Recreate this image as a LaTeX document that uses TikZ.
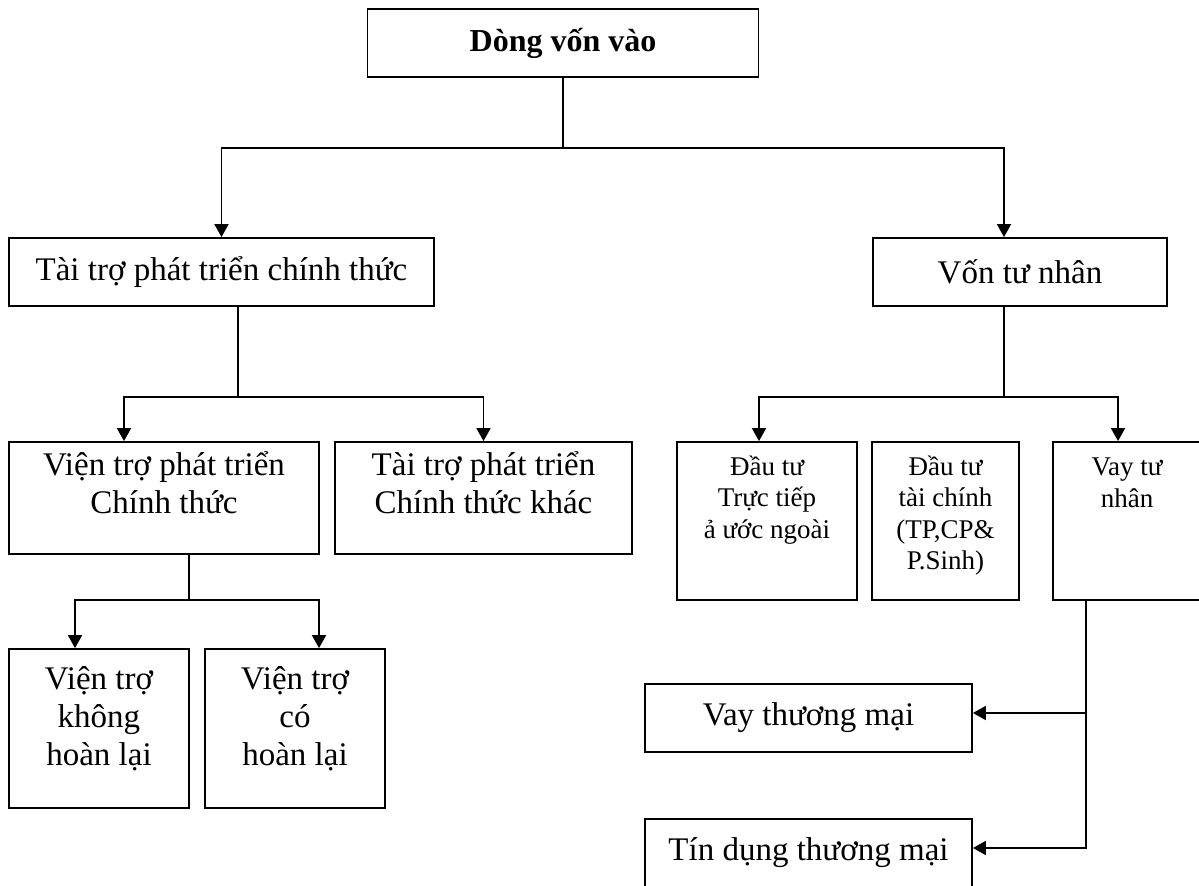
\documentclass[tikz,border=0pt]{standalone}
\usepackage{fontspec}
\setmainfont{Liberation Serif}
\usetikzlibrary{arrows.meta}

\begin{document}
\begin{tikzpicture}[
        x=0.5pt, y=-0.5pt,
        every path/.style={line width=0.9pt},
        box/.style={draw, inner sep=0pt},
        big/.style={font=\fontsize{16.5}{19}\selectfont, align=center, inner sep=0pt},
        small/.style={font=\fontsize{13.5}{15.7}\selectfont, align=center, inner sep=0pt},
        >={Triangle[length=6.5pt, width=7pt]}
    ]
        \useasboundingbox (0,0) rectangle (1199,886);

        % Các ô chính
        \node[box, big, minimum width=195.5pt, minimum height=34pt] (dong) at (563,43) {\fontsize{16}{19}\selectfont\bfseries Dòng vốn vào};
        \node[box, big, minimum width=212.5pt, minimum height=34pt] (odf) at (221.5,272) {Tài trợ phát triển chính thức};
        \node[box, big, minimum width=147pt, minimum height=34pt] (vtn) at (1020,272) {Vốn tư nhân};

        % Nhánh tài trợ chính thức
        \node[box, minimum width=155pt, minimum height=56pt] (oda) at (164,498) {};
        \node[big, anchor=north] (oda-t) at ([yshift=-5pt]oda.north) {Viện trợ phát triển\\Chính thức};
        \node[box, minimum width=148.5pt, minimum height=56pt] (oof) at (483.5,498) {};
        \node[big, anchor=north] (oof-t) at ([yshift=-5pt]oof.north) {Tài trợ phát triển\\Chính thức khác};
        \node[box, minimum width=90pt, minimum height=79.5pt] (khl) at (99,728.5) {};
        \node[big, anchor=north] (khl-t) at ([yshift=-9pt]khl.north) {Viện trợ\\không\\hoàn lại};
        \node[box, minimum width=90pt, minimum height=79.5pt] (chl) at (295,728.5) {};
        \node[big, anchor=north] (chl-t) at ([yshift=-9pt]chl.north) {Viện trợ\\có\\hoàn lại};

        % Nhánh vốn tư nhân
        \node[box, minimum width=90pt, minimum height=79pt] (fdi) at (767,521) {};
        \node[small, anchor=north] (fdi-t) at ([yshift=-7pt]fdi.north) {Đầu tư\\Trực tiếp\\ả ước ngoài};
        \node[box, minimum width=73.5pt, minimum height=79pt] (fpi) at (945.5,521) {};
        \node[small, anchor=north] (fpi-t) at ([yshift=-7pt]fpi.north) {Đầu tư\\tài chính\\(TP,CP\&\\P.Sinh)};
        \node[box, minimum width=74pt, minimum height=79pt] (vay) at (1127,521) {};
        \node[small, anchor=north] (vay-t) at ([yshift=-8pt]vay.north) {Vay tư\\nhân};
        \node[box, big, minimum width=163.5pt, minimum height=34pt] (vtm) at (808.5,718) {Vay thương mại};
        \node[box, big, minimum width=163.5pt, minimum height=34pt] (tdtm) at (808.5,853) {Tín dụng thương mại};

        % Các đường nối
        \coordinate (j1) at (563,148);
        \draw (dong) -- (j1);
        \draw[->] (j1) -| (odf);
        \draw[->] (j1) -| ([xshift=-8pt]vtn.north);

        \coordinate (j2) at (238,397);
        \draw ([xshift=8.25pt]odf.south) -- (j2);
        \draw[->] (j2) -| ([xshift=-20pt]oda.north);
        \draw[->] (j2) -| (oof);

        \coordinate (j3) at (1004,397);
        \draw ([xshift=-8pt]vtn.south) -- (j3);
        \draw[->] (j3) -| ([xshift=-4pt]fdi.north);
        \draw[->] (j3) -| ([xshift=-4.5pt]vay.north);

        \coordinate (j4) at (189,600);
        \draw ([xshift=12.5pt]oda.south) -- (j4);
        \draw[->] (j4) -| ([xshift=-12pt]khl.north);
        \draw[->] (j4) -| ([xshift=12pt]chl.north);

        \coordinate (j5) at (1086,713);
        \draw[->] ([xshift=-20.5pt]vay.south) |- ([yshift=2.5pt]tdtm.east);
        \draw[->] (j5) -- (vtm.east |- j5);
    \end{tikzpicture}
\end{document}
